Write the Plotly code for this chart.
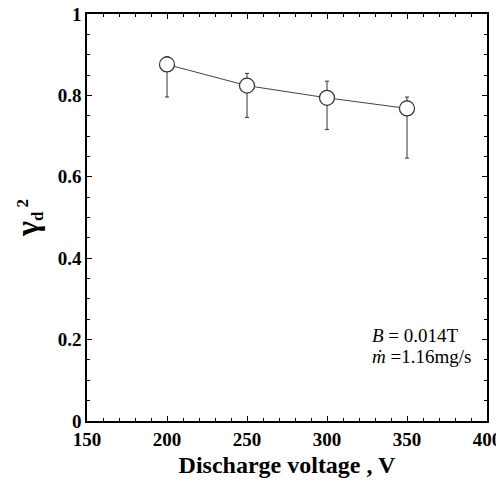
import plotly.graph_objects as go

voltage = [200, 250, 300, 350]
gamma_sq = [0.876, 0.824, 0.794, 0.768]
err_plus = [0.019, 0.030, 0.041, 0.028]
err_minus = [0.080, 0.078, 0.078, 0.122]

x_ticks = [150, 200, 250, 300, 350, 400]
y_ticks = [0, 0.2, 0.4, 0.6, 0.8, 1.0]
y_tick_labels = ["0", "0.2", "0.4", "0.6", "0.8", "1"]

note_lines = ["<i>B</i> = 0.014T", "<i>ṁ</i> =1.16mg/s"]

serif = "Liberation Serif, Times New Roman, serif"

fig = go.Figure()
fig.add_trace(go.Scatter(
    x=voltage, y=gamma_sq, mode="lines+markers",
    line=dict(color="#444444", width=1),
    marker=dict(symbol="circle", size=15, color="white",
                line=dict(color="#333333", width=1.2)),
    error_y=dict(type="data", symmetric=False, array=err_plus,
                 arrayminus=err_minus, color="#333333", thickness=1, width=2),
    showlegend=False,
))

axis_common = dict(
    showline=True, linecolor="black", linewidth=1.6, mirror="allticks",
    ticks="inside", ticklen=5, tickwidth=1.2, tickcolor="black",
    showgrid=False, zeroline=False, automargin=False,
    ticklabeloverflow="allow",
    tickfont=dict(family=serif, size=19, color="black"),
)

fig.update_xaxes(
    range=[150, 400], tickvals=x_ticks,
    ticktext=[f"<b>{v}</b>" for v in x_ticks],
    ticklabelstandoff=0,
    minor=dict(dtick=10, ticklen=3, tickcolor="black", ticks="inside"),
    title=dict(text="<b>Discharge voltage , V</b>",
               font=dict(family=serif, size=24, color="black"), standoff=8),
    **axis_common,
)
fig.update_yaxes(
    range=[0, 1], tickvals=y_ticks,
    ticktext=[f"<b>{t}</b>" for t in y_tick_labels],
    ticklabelstandoff=0,
    minor=dict(dtick=0.05, ticklen=3, tickcolor="black", ticks="inside"),
    title=dict(text="<b><span style=\"font-size:32px\">γ</span><sub>d</sub><sup> 2</sup></b>",
               font=dict(family=serif, size=24, color="black"), standoff=12),
    **axis_common,
)

for line, ypos in zip(note_lines, [0.209, 0.158]):
    fig.add_annotation(
        x=0.708, y=ypos, xref="paper", yref="paper", xanchor="left", yanchor="middle",
        showarrow=False, text=line,
        font=dict(family=serif, size=19, color="black"),
    )

fig.update_layout(
    width=504, height=472,
    margin=dict(l=79, r=25, t=6, b=59),
    paper_bgcolor="white", plot_bgcolor="white",
)

fig.write_html("out.html")
